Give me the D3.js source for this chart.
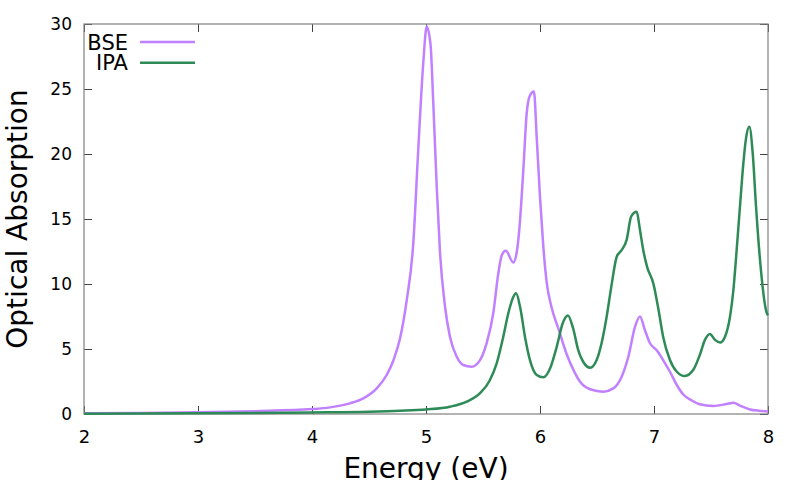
<!DOCTYPE html>
<html>
<head>
<meta charset="utf-8">
<script src="https://cdn.jsdelivr.net/npm/d3@7"></script>
<style>
  body { margin: 0; background: #fff; }
  text { font-family: "DejaVu Sans", sans-serif; fill: #000; }
</style>
</head>
<body>
<div id="chart"></div>
<script>
// Series
const bseEnergy = [2.0, 2.5, 3.0, 3.5, 4.0, 4.158, 4.333, 4.45, 4.568, 4.655, 4.713, 4.772, 4.83, 4.889, 4.93, 4.976,
  5.006, 5.04, 5.064, 5.094, 5.123, 5.167, 5.21, 5.27, 5.327, 5.4, 5.474, 5.532, 5.59, 5.634, 5.664,
  5.7, 5.766, 5.795, 5.818, 5.854, 5.883, 5.912, 5.947, 5.971, 6.0, 6.029, 6.059, 6.1, 6.16, 6.234,
  6.307, 6.35, 6.44, 6.555, 6.643, 6.716, 6.775, 6.833, 6.877, 6.92, 6.965, 7.024, 7.08, 7.14, 7.2,
  7.257, 7.33, 7.4, 7.52, 7.637, 7.696, 7.754, 7.842, 7.92, 8.0];
const bseValues = [0.05, 0.08, 0.13, 0.22, 0.38, 0.51, 0.82, 1.2, 1.97, 3.0, 4.1, 5.8, 8.7, 13.2, 20, 27,
  29.8, 28.4, 23.9, 17.5, 12.4, 8.25, 5.95, 4.4, 3.77, 3.64, 4.15, 5.45, 7.75, 10.8, 12.2,
  12.56, 11.65, 12.4, 14.15, 18.8, 23.1, 24.5, 24.8, 21.3, 16.7, 12.9, 10.1, 8.25, 6.6, 4.6,
  3.15, 2.5, 1.9, 1.72, 1.97, 2.87, 4.4, 6.7, 7.5, 6.46, 5.44, 4.9, 4.15, 3.25, 2.23,
  1.5, 1.05, 0.75, 0.62, 0.77, 0.87, 0.65, 0.35, 0.25, 0.2];

const ipaEnergy = [2.0, 3.0, 4.0, 4.5, 4.772, 5.0, 5.21, 5.357, 5.474, 5.56, 5.62, 5.678, 5.722, 5.766,
  5.79, 5.825, 5.868, 5.912, 5.971, 6.03, 6.088, 6.147, 6.2, 6.245, 6.29, 6.336, 6.38, 6.44, 6.497,
  6.54, 6.585, 6.63, 6.673, 6.716, 6.76, 6.8, 6.848, 6.877, 6.906, 6.94, 6.994, 7.04, 7.08, 7.14,
  7.2, 7.27, 7.345, 7.4, 7.447, 7.49, 7.535, 7.58, 7.623, 7.667, 7.696, 7.725, 7.754, 7.784, 7.807,
  7.836, 7.866, 7.895, 7.93, 7.99, 8.0];
const ipaValues = [0.02, 0.05, 0.12, 0.18, 0.25, 0.35, 0.56, 0.95, 1.6, 2.6, 3.9, 5.95, 7.75, 9.0,
  9.28, 8.25, 5.95, 4.15, 3.0, 2.82, 3.5, 5.18, 7.0, 7.58, 6.6, 4.9, 4.0, 3.56, 4.15,
  5.44, 7.5, 10.05, 12.1, 12.6, 13.4, 15.2, 15.56, 14.15, 12.6, 11.3, 10.05, 8.0, 5.95, 4.15,
  3.25, 2.92, 3.4, 4.5, 5.7, 6.15, 5.7, 5.5, 5.95, 7.5, 9.5, 12.6, 15.95, 19.3, 21.2,
  22.1, 20.05, 15.95, 11.85, 7.75, 7.6];

const xTicks = [2, 3, 4, 5, 6, 7, 8];
const yTicks = [0, 5, 10, 15, 20, 25, 30];
const seriesNames = ["BSE", "IPA"];
const seriesColors = ["#c080ff", "#2e8b57"];

// Dimensions of the chart
const margin = { top: 24, right: 32, bottom: 66, left: 84 },
      width = 800 - margin.left - margin.right,
      height = 480 - margin.top - margin.bottom;

const x = d3.scaleLinear().domain([2, 8]).range([0, width]);
const y = d3.scaleLinear().domain([0, 30]).range([height, 0]);

const svg = d3.select("#chart").append("svg")
    .attr("width", 800)
    .attr("height", 480)
  .append("g")
    .attr("transform", `translate(${margin.left},${margin.top})`);

const tickLen = 8;

// Axes with inward ticks, mirrored on top and right (gnuplot style)
function styleAxis(g) {
  g.select(".domain").remove();
  g.selectAll(".tick line").attr("stroke", "#444").attr("stroke-width", 1);
}

svg.append("g")
    .attr("transform", `translate(0,${height})`)
    .call(d3.axisBottom(x).tickValues(xTicks).tickFormat(d3.format("d"))
      .tickSizeInner(-tickLen).tickSizeOuter(0).tickPadding(16))
    .call(styleAxis)
    .selectAll("text").style("font-size", "18px").attr("fill", "#000");

svg.append("g")
    .call(d3.axisTop(x).tickValues(xTicks).tickSizeInner(-tickLen).tickSizeOuter(0).tickFormat(""))
    .call(styleAxis);

svg.append("g")
    .call(d3.axisLeft(y).tickValues(yTicks).tickSizeInner(-tickLen).tickSizeOuter(0).tickPadding(12))
    .call(styleAxis)
    .selectAll("text").style("font-size", "17px").attr("fill", "#000");

svg.append("g")
    .attr("transform", `translate(${width},0)`)
    .call(d3.axisRight(y).tickValues(yTicks).tickSizeInner(-tickLen).tickSizeOuter(0).tickFormat(""))
    .call(styleAxis);

// Border
svg.append("rect")
    .attr("width", width)
    .attr("height", height)
    .attr("fill", "none")
    .attr("stroke", "#808080")
    .attr("stroke-width", 1.2);

// Lines
const line = d3.line()
    .curve(d3.curveMonotoneX)
    .x(d => x(d[0]))
    .y(d => y(d[1]));

const series = [
  d3.zip(bseEnergy, bseValues),
  d3.zip(ipaEnergy, ipaValues)
];

svg.selectAll(".series")
  .data(series)
  .enter().append("path")
    .attr("class", "series")
    .attr("fill", "none")
    .attr("stroke", (d, i) => seriesColors[i])
    .attr("stroke-width", 2.5)
    .attr("stroke-linejoin", "round")
    .attr("d", line);

// Legend
const legend = svg.selectAll(".legend")
  .data(seriesNames)
  .enter().append("g")
    .attr("class", "legend")
    .attr("transform", (d, i) => `translate(0,${18 + i * 20.7})`);

legend.append("text")
    .attr("x", 44)
    .attr("dy", "0.36em")
    .style("font-size", "21px")
    .style("text-anchor", "end")
    .text(d => d);

legend.append("line")
    .attr("x1", 56)
    .attr("x2", 111)
    .attr("stroke", (d, i) => seriesColors[i])
    .attr("stroke-width", 2.5);

// Axis labels
svg.append("text")
    .attr("transform", `translate(${width / 2}, ${height + 64})`)
    .style("text-anchor", "middle")
    .style("font-size", "28px")
    .text("Energy (eV)");

svg.append("text")
    .attr("transform", `translate(${17 - margin.left}, ${height / 2}) rotate(-90)`)
    .attr("dy", "0.36em")
    .style("text-anchor", "middle")
    .style("font-size", "28px")
    .text("Optical Absorption");
</script>
</body>
</html>
